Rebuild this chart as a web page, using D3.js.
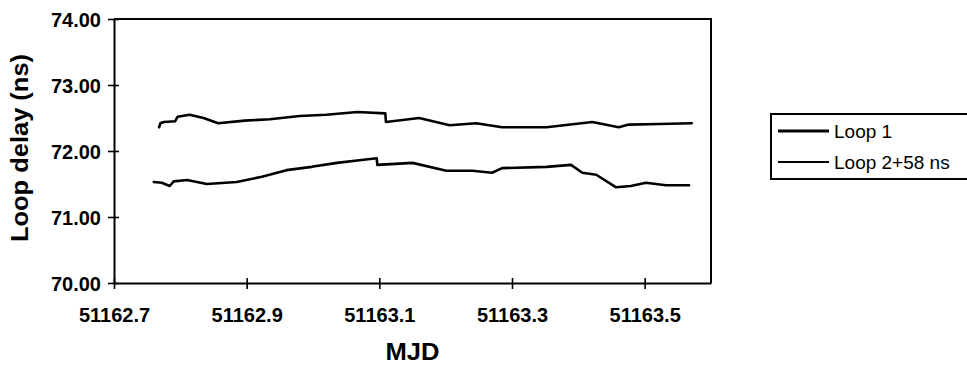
<!DOCTYPE html>
<html>
<head>
<meta charset="utf-8">
<script src="https://cdn.jsdelivr.net/npm/d3@7"></script>
<style>
  html, body { margin: 0; padding: 0; background: #fff; }
  svg { display: block; font-family: 'Liberation Sans', Arial, sans-serif; }
</style>
</head>
<body>
<div id="chart"></div>
<script>
// values
const loop1Mjd = [51162.768, 51162.770, 51162.775, 51162.792, 51162.796, 51162.814, 51162.835, 51162.857,
  51162.897, 51162.935, 51162.980, 51163.020, 51163.067, 51163.109, 51163.110, 51163.160, 51163.206,
  51163.246, 51163.285, 51163.352, 51163.421, 51163.461, 51163.476, 51163.522, 51163.571]
const loop1Delay = [72.36, 72.42, 72.44, 72.45, 72.52, 72.55, 72.50, 72.42,
  72.46, 72.48, 72.53, 72.55, 72.59, 72.57, 72.44, 72.50, 72.39,
  72.42, 72.36, 72.36, 72.44, 72.36, 72.40, 72.41, 72.42]

const loop2Mjd = [51162.760, 51162.772, 51162.784, 51162.790, 51162.810, 51162.840, 51162.885, 51162.923,
  51162.960, 51162.998, 51163.036, 51163.070, 51163.096, 51163.097, 51163.150, 51163.201, 51163.240,
  51163.270, 51163.285, 51163.352, 51163.389, 51163.406, 51163.427, 51163.457, 51163.479, 51163.502,
  51163.532, 51163.567]
const loop2Delay = [71.53, 71.52, 71.47, 71.54, 71.56, 71.50, 71.53, 71.61,
  71.71, 71.76, 71.82, 71.86, 71.89, 71.79, 71.82, 71.70, 71.70,
  71.67, 71.74, 71.76, 71.79, 71.67, 71.64, 71.45, 71.47, 71.52,
  71.48, 71.48]

const xTicks = [51162.7, 51162.9, 51163.1, 51163.3, 51163.5]
const yTicks = [70, 71, 72, 73, 74]
const seriesNames = ['Loop 1', 'Loop 2+58 ns']

const W = 967, H = 368
const MARGIN = { top: 19, right: 256, bottom: 85, left: 114 }
const innerW = W - MARGIN.left - MARGIN.right
const innerH = H - MARGIN.top - MARGIN.bottom

const svg = d3.select('#chart').append('svg')
  .attr('width', W).attr('height', H)

const g = svg.append('g')
  .attr('transform', `translate(${MARGIN.left},${MARGIN.top})`)

const x = d3.scaleLinear().domain([51162.7, 51163.6]).range([0, innerW])
const y = d3.scaleLinear().domain([70, 74]).range([innerH, 0])

// plot area border (top + right)
g.append('path')
  .attr('d', `M0,0H${innerW}V${innerH}`)
  .attr('fill', 'none').attr('stroke', '#000').attr('stroke-width', 2)

const xAxis = g.append('g')
  .attr('transform', `translate(0,${innerH})`)
  .call(d3.axisBottom(x).tickValues(xTicks).tickFormat(d3.format('.1f')).tickSize(6).tickSizeOuter(0))
xAxis.selectAll('.tick line').attr('y1', -5).attr('y2', 6)

const yAxis = g.append('g')
  .call(d3.axisLeft(y).tickValues(yTicks).tickFormat(d3.format('.2f')).tickSize(6).tickSizeOuter(0))
yAxis.selectAll('.tick line').attr('x1', 5).attr('x2', -6)

for (const ax of [xAxis, yAxis]) {
  ax.select('.domain').attr('stroke', '#000').attr('stroke-width', 2)
  ax.selectAll('.tick line').attr('stroke', '#000').attr('stroke-width', 1.6)
  ax.selectAll('text').attr('fill', '#000')
    .style('font-size', '20px').style('font-weight', 'bold')
    .style('font-family', "'Liberation Sans', Arial, sans-serif")
}
xAxis.selectAll('text').attr('dy', 0).attr('y', 39)
yAxis.selectAll('text').attr('x', -13).attr('dy', '0.36em')

const line = d3.line().x(d => x(d[0])).y(d => y(d[1]))

const loop1 = loop1Mjd.map((m, i) => [m, loop1Delay[i]])
const loop2 = loop2Mjd.map((m, i) => [m, loop2Delay[i]])

g.append('path').attr('d', line(loop1))
  .attr('fill', 'none').attr('stroke', '#000').attr('stroke-width', 2.6)
  .attr('stroke-linejoin', 'round').attr('stroke-linecap', 'round')
g.append('path').attr('d', line(loop2))
  .attr('fill', 'none').attr('stroke', '#000').attr('stroke-width', 2.6)
  .attr('stroke-linejoin', 'round').attr('stroke-linecap', 'round')

// axis titles (the scan stretches them a bit)
svg.append('text')
  .attr('transform', `translate(28,148) rotate(-90)`)
  .attr('text-anchor', 'middle')
  .attr('textLength', 188).attr('lengthAdjust', 'spacingAndGlyphs')
  .style('font-size', '23px').style('font-weight', 'bold')
  .text('Loop delay (ns)')

svg.append('text')
  .attr('x', MARGIN.left + innerW / 2).attr('y', 360)
  .attr('text-anchor', 'middle')
  .attr('textLength', 54).attr('lengthAdjust', 'spacingAndGlyphs')
  .style('font-size', '23px').style('font-weight', 'bold')
  .text('MJD')

// legend
const legend = svg.append('g').attr('transform', 'translate(771,114)')
legend.append('rect')
  .attr('width', 210).attr('height', 65)
  .attr('fill', 'none').attr('stroke', '#000').attr('stroke-width', 2)
const legendWidths = [3, 2]
seriesNames.forEach((name, i) => {
  const row = legend.append('g').attr('transform', `translate(0,${17 + i * 31})`)
  row.append('line').attr('x1', 7).attr('x2', 58)
    .attr('stroke', '#000').attr('stroke-width', legendWidths[i])
  row.append('text').attr('x', 63).attr('dy', '0.36em')
    .style('font-size', '19px')
    .text(name)
})
</script>
</body>
</html>
